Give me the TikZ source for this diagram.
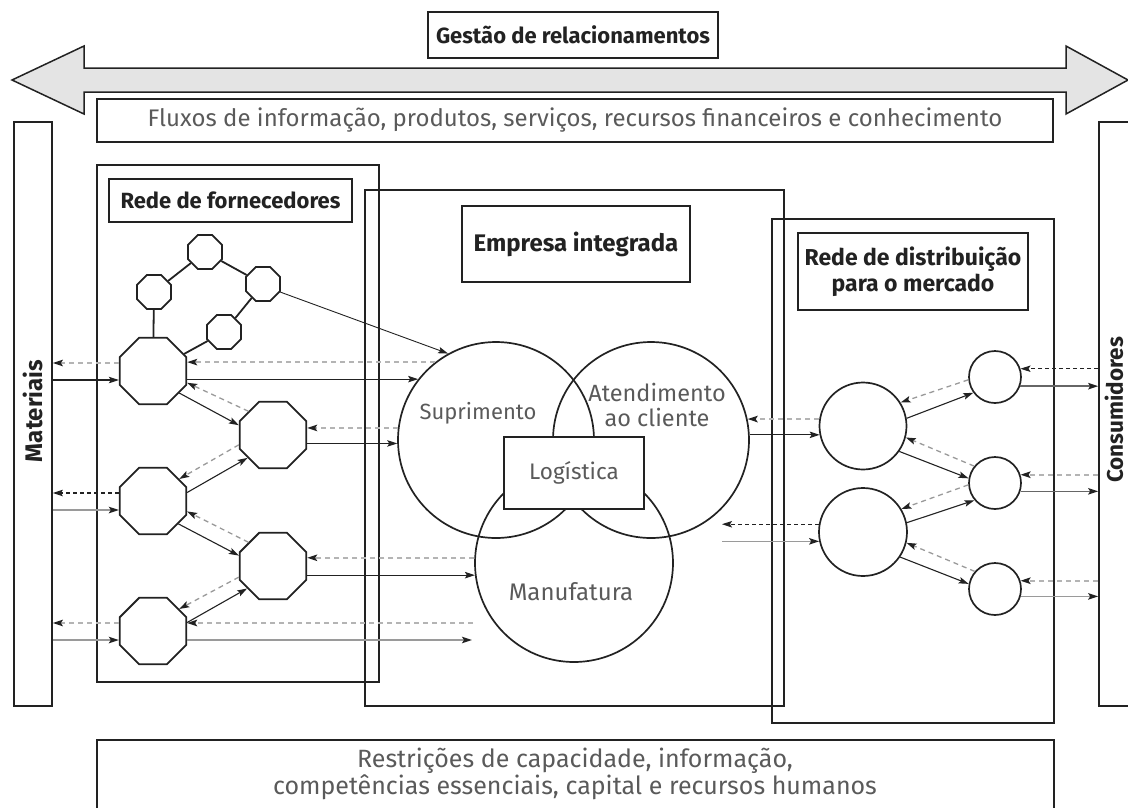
\documentclass[tikz,border=0pt]{standalone}
\usepackage{fontspec}
\setmainfont{Fira Sans}
\usetikzlibrary{arrows.meta,shapes.geometric}

\definecolor{txtgray}{HTML}{5A5A5A}
\definecolor{lngray}{HTML}{9A9A9A}
\definecolor{dshgray}{HTML}{B4B4B4}
\definecolor{bandfill}{HTML}{E4E4E4}
\definecolor{ink}{HTML}{222222}

\begin{document}
\begin{tikzpicture}[x=1pt,y=-1pt,
  frame/.style={draw=ink,line width=1.7pt},
  labelbox/.style={frame,inner sep=0pt,align=center},
  oct/.style={regular polygon,regular polygon sides=8,draw=ink,line width=1.8pt,inner sep=0pt},
  bigoct/.style={oct,minimum size=72pt},
  smalloct/.style={oct,minimum size=37pt},
  circ/.style={circle,draw=ink,line width=1.7pt,inner sep=0pt},
  tip/.style={-{Stealth[length=10pt,width=6.5pt,inset=2pt,color=ink]}},
  solidarr/.style={tip,draw=ink,line width=1.1pt},
  grayarr/.style={tip,draw=lngray,line width=1.5pt},
  dashgray/.style={tip,draw=dshgray,line width=1.8pt,dash pattern=on 5pt off 4pt},
  dashmid/.style={dashgray,draw=lngray,line width=1.3pt},
  dashblack/.style={tip,draw=ink,line width=1.1pt,dash pattern=on 4pt off 3pt},
  link/.style={draw=ink,line width=1.8pt},
  heading/.style={font=\bfseries\fontsize{22}{26}\selectfont,text=ink,align=center},
  body/.style={font=\fontsize{24}{25}\selectfont,text=txtgray,align=center}
]
\useasboundingbox (0,0) rectangle (1128,807);
\clip (0,0) rectangle (1128,807);

% relationship management band
\draw[fill=bandfill,draw=ink,line width=1.5pt]
  (12,80) -- (84,46) -- (84,68) -- (1066,68) -- (1066,46) -- (1128,80)
  -- (1066,114) -- (1066,92) -- (84,92) -- (84,114) -- cycle;
\node[labelbox,minimum width=290pt,minimum height=46pt,heading] (gest) at (573,35) {Gestão de relacionamentos};

% flows
\node[labelbox,minimum width=956pt,minimum height=43pt,body] (flux) at (575,120.5)
  {Fluxos de informação, produtos, serviços, recursos financeiros e conhecimento};

% side bars
\node[frame,minimum width=38pt,minimum height=584pt,inner sep=0pt] (mat) at (33,414) {};
\node[heading,rotate=90,font=\bfseries\fontsize{24}{26}\selectfont] at (33,411) {Materiais};
\node[frame,minimum width=38pt,minimum height=584pt,inner sep=0pt] (cons) at (1118,414) {};
\node[heading,rotate=90,font=\bfseries\fontsize{22.5}{26}\selectfont] at (1114,410) {Consumidores};

% containers
\draw[frame] (97,165) rectangle (379,682);
\draw[frame] (365,190) rectangle (784,706);
\draw[frame] (772,219) rectangle (1054,723);

\node[labelbox,minimum width=243pt,minimum height=43pt,heading] (lforn) at (230.5,200.5) {Rede de fornecedores};
\node[labelbox,minimum width=228pt,minimum height=76pt,heading,font=\bfseries\fontsize{24}{26}\selectfont] (lemp) at (576,244) {Empresa integrada};
\node[labelbox,minimum width=230pt,minimum height=77pt,heading,font=\bfseries\fontsize{23}{26}\selectfont] (ldist) at (913,271.5) {Rede de distribuição\\para o mercado};

% integrated enterprise
\node[circ,minimum size=196pt] (sup) at (496,440) {};
\node[circ,minimum size=196pt] (atd) at (651,440) {};
\node[circ,minimum size=198pt] (man) at (574,563) {};
\node[body,font=\fontsize{22}{25}\selectfont] at (478,413) {Suprimento};
\node[body,font=\fontsize{23.5}{25}\selectfont] at (657,404.5) {Atendimento\\ao cliente};
\node[body] at (571,592) {Manufatura};
\node[frame,fill=white,minimum width=140pt,minimum height=72pt,inner sep=0pt,body,font=\fontsize{22.5}{25}\selectfont] (log) at (574,473) {Logística};

% supplier network
\node[smalloct] (A) at (205,252) {};
\node[smalloct] (B) at (154,292) {};
\node[smalloct] (C) at (263,284) {};
\node[smalloct] (D) at (224,332) {};
\node[bigoct] (E) at (153,371) {};
\node[bigoct] (F) at (273,435) {};
\node[bigoct] (G) at (153,501) {};
\node[bigoct] (H) at (273,566) {};
\node[bigoct] (I) at (153,631) {};

\draw[link] (A) -- (B);
\draw[link] (A) -- (C);
\draw[link] (B) -- (E);
\draw[link] (C) -- (D);
\draw[link] (D) -- (E);
\draw[solidarr,line width=0.9pt] (C.335) -- (sup.119);

% distribution network
\node[circ,minimum size=87pt] (J) at (863,426) {};
\node[circ,minimum size=88pt] (K) at (863,532) {};
\node[circ,minimum size=52pt] (L) at (995,377) {};
\node[circ,minimum size=52pt] (M) at (995,483) {};
\node[circ,minimum size=52pt] (N) at (995,589) {};

% free ends
\coordinate (ib) at (473,623);
\coordinate (if) at (472,640);
\coordinate (kf) at (722,532);

% materials <-> suppliers
\draw[dashgray] ([yshift=8pt]E.west) -- ([yshift=8pt]E.west -| mat.east);
\draw[solidarr] ([yshift=-9pt]E.west -| mat.east) -- ([yshift=-9pt]E.west);
\draw[dashblack] ([yshift=8pt]G.west) -- ([yshift=8pt]G.west -| mat.east);
\draw[grayarr] ([yshift=-9pt]G.west -| mat.east) -- ([yshift=-9pt]G.west);
\draw[dashgray] ([yshift=8pt]I.west) -- ([yshift=8pt]I.west -| mat.east);
\draw[grayarr] ([yshift=-9pt]I.west -| mat.east) -- ([yshift=-9pt]I.west);

% suppliers among themselves
\draw[solidarr] (E.320) -- (F.164);
\draw[dashmid] (F.136) -- (E.341);
\draw[dashmid] (F.196) -- (G.40);
\draw[solidarr] (G.14) -- (F.222);
\draw[dashmid] (H.136) -- (G.343);
\draw[solidarr] (G.318) -- (H.163);
\draw[dashmid] (H.198) -- (I.40);
\draw[solidarr] (I.14) -- (H.221);

% suppliers <-> enterprise
\draw[dashgray] (sup.128) -- (sup.128 -| E.east);
\draw[solidarr] (sup.142 -| E.east) -- (sup.142);
\draw[dashgray] (sup.173) -- (sup.173 -| F.east);
\draw[solidarr] (sup.182 -| F.east) -- (sup.182);
\draw[dashgray] (man.177) -- (man.177 -| H.east);
\draw[solidarr] (man.187 -| H.east) -- (man.187);
\draw[dashgray] (ib) -- (ib -| I.east);
\draw[grayarr] (if -| I.east) -- (if);

% enterprise <-> distribution
\draw[dashgray] (J.171) -- (J.171 -| atd.12);
\draw[solidarr] (atd.3) -- (atd.3 -| J.192);
\draw[dashblack] (K.170) -- (K.170 -| kf);
\draw[grayarr] (kf |- K.192) -- (K.192);

% distribution among itself
\draw[dashmid] (L.186) -- (J.32);
\draw[solidarr] (J.10) -- (L.216);
\draw[dashmid] (M.141) -- (J.345);
\draw[solidarr] (J.325) -- (M.170);
\draw[dashmid] (M.184) -- (K.31);
\draw[solidarr] (K.12) -- (M.220);
\draw[dashmid] (N.139) -- (K.346);
\draw[solidarr] (K.326) -- (N.169);

% distribution <-> consumers
\draw[dashblack] (L.18 -| cons.west) -- (L.18);
\draw[grayarr,draw=black!60] (L.340) -- (L.340 -| cons.west);
\draw[dashgray] (M.18 -| cons.west) -- (M.18);
\draw[grayarr,draw=black!60] (M.342) -- (M.342 -| cons.west);
\draw[dashgray] (N.18 -| cons.west) -- (N.18);
\draw[grayarr] (N.344) -- (N.344 -| cons.west);

% constraints
\node[frame,minimum width=957pt,minimum height=110pt,inner sep=0pt,anchor=north] (rest) at (575.5,739) {};
\node[body,font=\fontsize{25}{24}\selectfont] at (575,774)
  {Restrições de capacidade, informação,\\competências essenciais, capital e recursos humanos};
\end{tikzpicture}
\end{document}
